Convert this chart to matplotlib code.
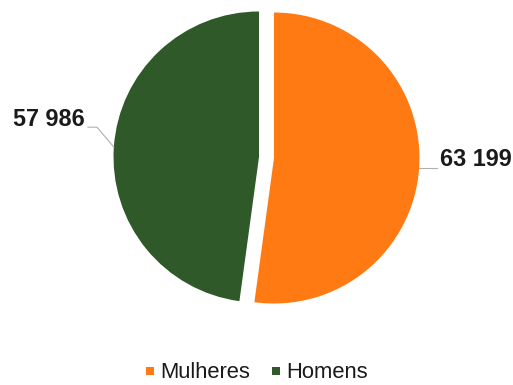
import numpy as np
import matplotlib
matplotlib.use("Agg")
import matplotlib.pyplot as plt
from matplotlib.lines import Line2D

# Population by sex
categories = ["Mulheres", "Homens"]
values = [63199, 57986]
colors = ["#FF7A12", "#30592A"]

W, H = 513, 385
fig = plt.figure(figsize=(W / 100, H / 100), dpi=100)
ax = fig.add_axes([0, 0, 1, 1])
ax.set_xlim(0, W)
ax.set_ylim(0, H)
ax.set_aspect("equal")
ax.axis("off")

center = (266.5, 227.5)
radius = 145.5
explode = [7.5, 7.5]

wedges, _ = ax.pie(values, colors=colors, startangle=90, counterclock=False,
                   center=center, radius=radius, explode=explode,
                   wedgeprops=dict(linewidth=0))
ax.set_xlim(0, W)
ax.set_ylim(0, H)


def fmt(v):
    return f"{v:,}".replace(",", " ")


font = dict(family=["Liberation Sans", "DejaVu Sans"], fontsize=16.8,
            fontweight="bold", color="#1a1a1a")
line_kw = dict(color="#b0b0b0", linewidth=0.8)

for w, v in zip(wedges, values):
    th = np.deg2rad(0.5 * (w.theta1 + w.theta2))
    cx, cy = w.center
    px = cx + w.r * np.cos(th)
    py = cy + w.r * np.sin(th)
    if np.cos(th) > 0:
        ex = px + 18
        ax.plot([px, ex], [py, py], **line_kw)
        ax.text(ex + 3, py + 2, fmt(v), ha="left", va="baseline", **font)
    else:
        kx, ky = 97, py + 20
        ax.plot([px, kx, kx - 9], [py, ky, ky], **line_kw)
        ax.text(kx - 12, ky + 1, fmt(v), ha="right", va="baseline", **font)

handles = [Line2D([], [], marker="s", linestyle="none", markersize=5.5,
                  markerfacecolor=w.get_facecolor(), markeredgewidth=0)
           for w in wedges]
leg = fig.legend(handles, categories, loc="center", bbox_to_anchor=(256.5 / W, 1 - 373 / H),
                 ncol=2, frameon=False, handlelength=0.4, handletextpad=0.25,
                 columnspacing=1.0,
                 prop=dict(family=["Liberation Sans", "DejaVu Sans"], size=15.8))
for t in leg.get_texts():
    t.set_color("#1a1a1a")

fig.savefig("out.png", dpi=100, facecolor="white")
